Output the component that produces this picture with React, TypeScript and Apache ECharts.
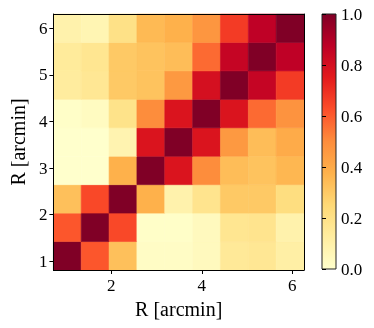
import React, { useEffect, useRef } from "react";
import * as echarts from "echarts";

// Bin centres (arcmin)
const xCenters = [1.028, 1.643, 2.259, 2.874, 3.49, 4.106, 4.721, 5.337, 5.952];
const yCenters = [1.116, 1.727, 2.338, 2.949, 3.56, 4.171, 4.782, 5.393, 6.004];
const cellW = 0.6156;
const cellH = 0.6111;
const xRange = [0.72, 6.26];
const yRange = [0.81, 6.31];

// Correlation matrix, rows from bottom (y index 0) to top
const row0 = [1.0, 0.61, 0.33, 0.02, 0.02, 0.04, 0.15, 0.16, 0.11];
const row1 = [0.61, 1.0, 0.64, 0.01, 0.01, 0.04, 0.17, 0.18, 0.09];
const row2 = [0.33, 0.64, 1.0, 0.38, 0.09, 0.18, 0.3, 0.3, 0.22];
const row3 = [0.0, 0.0, 0.38, 1.0, 0.78, 0.5, 0.34, 0.32, 0.36];
const row4 = [0.0, 0.0, 0.08, 0.78, 1.0, 0.78, 0.46, 0.34, 0.4];
const row5 = [0.01, 0.03, 0.19, 0.5, 0.78, 1.0, 0.78, 0.57, 0.48];
const row6 = [0.13, 0.16, 0.3, 0.32, 0.46, 0.8, 1.0, 0.85, 0.67];
const row7 = [0.14, 0.17, 0.3, 0.32, 0.34, 0.57, 0.85, 1.0, 0.87];
const row8 = [0.09, 0.07, 0.2, 0.35, 0.38, 0.47, 0.67, 0.87, 1.0];
const rows = [row0, row1, row2, row3, row4, row5, row6, row7, row8];

const xTicks = [2, 4, 6];
const yTicks = [1, 2, 3, 4, 5, 6];
const axisTitle = "R [arcmin]";

const YlOrRd = [
  "#ffffcc", "#ffeda0", "#fed976", "#feb24c", "#fd8d3c",
  "#fc4e2a", "#e31a1c", "#bd0026", "#800026",
];

const FONT = "'Liberation Serif', 'DejaVu Serif', serif";

export default function App() {
  const ref = useRef<HTMLDivElement>(null);
  useEffect(() => {
    if (!ref.current) return;
    const chart = echarts.init(ref.current, null, { renderer: "svg" });
    const data: number[][] = [];
    rows.forEach((r, yi) =>
      r.forEach((v, xi) => data.push([xCenters[xi], yCenters[yi], v]))
    );
    const stops = YlOrRd.map((c, i) => ({ offset: i / (YlOrRd.length - 1), color: c }));
    const cbL = 322, cbT = 14, cbW = 14, cbH = 255;
    const label = { color: "#000", fontFamily: FONT, fontSize: 17 };
    chart.setOption({
      animation: false,
      grid: [
        { left: 48, top: 14, width: 256, height: 256 },
        { left: cbL, top: cbT, width: cbW, height: cbH },
      ],
      visualMap: {
        show: false,
        type: "continuous",
        min: 0,
        max: 1,
        dimension: 2,
        seriesIndex: 0,
        inRange: { color: YlOrRd },
      },
      xAxis: [
        {
          type: "value",
          gridIndex: 0,
          min: xRange[0],
          max: xRange[1],
          z: 10,
          splitLine: { show: false },
          axisLine: { show: true, onZero: false, lineStyle: { color: "#000", width: 1 } },
          axisTick: { show: true, inside: false, length: 4, customValues: xTicks, lineStyle: { color: "#000" } },
          axisLabel: { ...label, margin: 7, customValues: xTicks, formatter: (v: number) => String(v) },
          name: axisTitle,
          nameLocation: "middle",
          nameGap: 27,
          nameTextStyle: { color: "#000", fontFamily: FONT, fontSize: 20 },
        },
        {
          type: "value",
          gridIndex: 0,
          position: "top",
          min: xRange[0],
          max: xRange[1],
          z: 10,
          splitLine: { show: false },
          axisLine: { show: true, onZero: false, lineStyle: { color: "#000", width: 1 } },
          axisTick: { show: false },
          axisLabel: { show: false },
        },
        { type: "value", gridIndex: 1, min: 0, max: 1, show: false },
      ],
      yAxis: [
        {
          type: "value",
          gridIndex: 0,
          min: yRange[0],
          max: yRange[1],
          z: 10,
          splitLine: { show: false },
          axisLine: { show: true, onZero: false, lineStyle: { color: "#000", width: 1 } },
          axisTick: { show: true, inside: false, length: 4, customValues: yTicks, lineStyle: { color: "#000" } },
          axisLabel: { ...label, margin: 6, customValues: yTicks, formatter: (v: number) => String(v) },
          name: axisTitle,
          nameLocation: "middle",
          nameGap: 24,
          nameRotate: 90,
          nameTextStyle: { color: "#000", fontFamily: FONT, fontSize: 20 },
        },
        {
          type: "value",
          gridIndex: 0,
          position: "right",
          min: yRange[0],
          max: yRange[1],
          z: 10,
          splitLine: { show: false },
          axisLine: { show: true, onZero: false, lineStyle: { color: "#000", width: 1 } },
          axisTick: { show: false },
          axisLabel: { show: false },
        },
        {
          type: "value",
          gridIndex: 1,
          position: "right",
          min: 0,
          max: 1,
          interval: 0.2,
          z: 10,
          splitLine: { show: false },
          axisLine: { show: false },
          axisTick: { show: true, inside: false, length: 4, lineStyle: { color: "#000" } },
          axisLabel: { ...label, margin: 5, formatter: (v: number) => v.toFixed(1) },
        },
      ],
      graphic: [
        {
          type: "rect",
          z: 5,
          shape: { x: cbL, y: cbT, width: cbW, height: cbH },
          style: {
            fill: new echarts.graphic.LinearGradient(0, 1, 0, 0, stops),
            stroke: "#222",
            lineWidth: 1,
          },
        },
      ],
      series: [
        {
          type: "custom",
          xAxisIndex: 0,
          yAxisIndex: 0,
          encode: { x: 0, y: 1 },
          data,
          renderItem: (params: any, api: any) => {
            const x = api.value(0);
            const y = api.value(1);
            const p0 = api.coord([x - cellW / 2, y + cellH / 2]);
            const p1 = api.coord([x + cellW / 2, y - cellH / 2]);
            const c = api.visual("color");
            return {
              type: "rect",
              shape: { x: p0[0], y: p0[1], width: p1[0] - p0[0], height: p1[1] - p0[1] },
              style: { fill: c, stroke: c, lineWidth: 0.6 },
            };
          },
        },
      ],
    });
    return () => chart.dispose();
  }, []);
  return (
    <div
      ref={ref}
      style={{ position: "fixed", left: 0, top: 0, width: 374, height: 328 }}
    />
  );
}
